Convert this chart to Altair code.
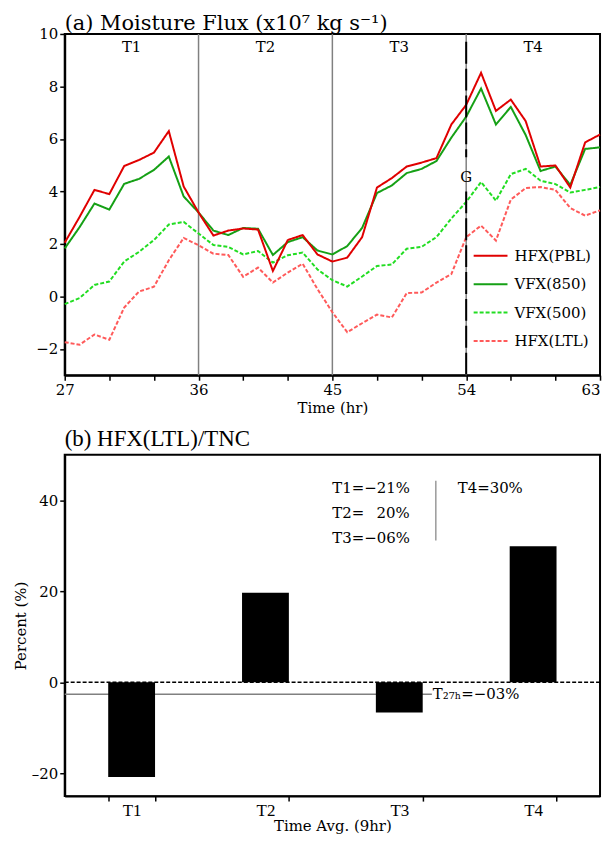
import altair as alt
import pandas as pd

# ---------------- data: panel (a) ----------------
hours = list(range(27, 64))
hfx_pbl = [2.05, 3.03, 4.06, 3.90, 4.97, 5.20, 5.48, 6.30, 4.19, 3.20,
           2.32, 2.51, 2.59, 2.55, 0.97, 2.15, 2.34, 1.60, 1.33,
           1.48, 2.26, 4.15, 4.51, 4.95, 5.10, 5.27, 6.55, 7.30,
           8.52, 7.07, 7.50, 6.68, 4.95, 4.99, 4.15, 5.87, 6.17]
vfx_850 = [1.83, 2.64, 3.54, 3.31, 4.29, 4.48, 4.82, 5.33, 3.81, 3.20,
           2.51, 2.34, 2.61, 2.58, 1.58, 2.07, 2.26, 1.75, 1.60,
           1.92, 2.61, 3.94, 4.23, 4.70, 4.86, 5.16, 6.05, 6.85,
           7.92, 6.55, 7.22, 6.15, 4.78, 4.95, 4.25, 5.62, 5.68]
vfx_500 = [-0.29, -0.06, 0.44, 0.57, 1.33, 1.70, 2.15, 2.74, 2.84, 2.40,
           1.96, 1.89, 1.60, 1.73, 1.29, 1.57, 1.67, 1.03, 0.62,
           0.38, 0.76, 1.16, 1.22, 1.82, 1.89, 2.26, 2.97, 3.60,
           4.36, 3.65, 4.66, 4.86, 4.41, 4.28, 3.96, 4.06, 4.17]
hfx_ltl = [-1.74, -1.84, -1.45, -1.65, -0.42, 0.19, 0.37, 1.38, 2.23, 1.95,
           1.63, 1.58, 0.75, 1.10, 0.53, 0.91, 1.25, 0.28, -0.60,
           -1.36, -1.02, -0.69, -0.80, 0.13, 0.15, 0.53, 0.85, 2.26,
           2.70, 2.13, 3.69, 4.13, 4.17, 4.06, 3.37, 3.08, 3.28]

series_names = ["HFX(PBL)", "VFX(850)", "VFX(500)", "HFX(LTL)"]
series_colors = ["#e00000", "#15a015", "#22dd22", "#ff5a5a"]
series_dash = [[1, 0], [1, 0], [4, 2], [4, 2]]

period_names = ["T1", "T2", "T3", "T4"]
period_bounds = [27, 36, 45, 54, 63]
genesis_hour = 54

# ---------------- data: panel (b) ----------------
pct_values = [-20.8, 19.7, -6.6, 29.9]
pct_labels = ["T1=\u221221%", "T2=\u2002\u00a020%", "T3=\u221206%"]
pct_label_t4 = "T4=30%"
total_pct = -2.6
total_label = "T\u2082\u2087\u2095=\u221203%"

SERIF = "DejaVu Serif"
TIMES = "Liberation Serif"
W = 538
HA = 343
HB = 343

# ---------------- panel (a) ----------------
rows = []
for name, vals in zip(series_names, [hfx_pbl, vfx_850, vfx_500, hfx_ltl]):
    for h, v in zip(hours, vals):
        rows.append({"hour": h, "value": v, "series": name})
flux = pd.DataFrame(rows)

xa = alt.X("hour:Q", scale=alt.Scale(domain=[27, 63], nice=False),
           axis=alt.Axis(values=list(range(27, 64, 3)),
                         labelExpr="(datum.value - 27) % 9 == 0 ? datum.label : ''",
                         labelAlign={"condition": {"test": "datum.value == 63", "value": "right"},
                                     "value": "center"},
                         labelFlush=False, labelOverlap=False,
                         title="Time (hr)"))
ya = alt.Y("value:Q", scale=alt.Scale(domain=[-3, 10], nice=False),
           axis=alt.Axis(values=[-2, 0, 2, 4, 6, 8, 10], title=None))

color_enc = alt.Color("series:N",
                      scale=alt.Scale(domain=series_names, range=series_colors),
                      legend=None)
dash_enc = alt.StrokeDash("series:N",
                          scale=alt.Scale(domain=series_names, range=series_dash),
                          legend=None)

inner = pd.DataFrame({"hour": period_bounds[1:-1]})
sep_rules = alt.Chart(inner).mark_rule(color="#808080", strokeWidth=1.5).encode(x=xa)

line_layers = []
for name in reversed(series_names):
    line_layers.append(
        alt.Chart(flux).transform_filter(alt.datum.series == name)
        .mark_line(strokeWidth=2).encode(x=xa, y=ya, color=color_enc, strokeDash=dash_enc)
    )

periods = pd.DataFrame({
    "period": period_names,
    "mid": [(a + b) / 2 for a, b in zip(period_bounds[:-1], period_bounds[1:])],
})
period_text = alt.Chart(periods).mark_text(font=SERIF, fontSize=15, color="black").encode(
    x=alt.X("mid:Q", scale=alt.Scale(domain=[27, 63], nice=False)),
    y=alt.datum(9.5), text="period:N")

gdf = pd.DataFrame({"hour": [genesis_hour]})
g_upper = alt.Chart(gdf).mark_rule(color="black", strokeWidth=2, strokeDash=[22, 5]).encode(
    x=xa, y=alt.datum(9.7), y2=alt.datum(5.3))
g_lower = alt.Chart(gdf).mark_rule(color="black", strokeWidth=2, strokeDash=[22, 5]).encode(
    x=xa, y=alt.datum(4.0), y2=alt.datum(-3))
g_text = alt.Chart(gdf).mark_text(font=SERIF, fontSize=15, color="black").encode(
    x=xa, y=alt.datum(4.55), text=alt.value("G"))

# legend drawn inside panel (a), lower right
legend_layers = []
for i, name in enumerate(series_names):
    ldf = pd.DataFrame({"series": [name]})
    ypix = 223 + i * 28.5
    legend_layers.append(
        alt.Chart(ldf).mark_rule(strokeWidth=2).encode(
            x=alt.value(411), x2=alt.value(445), y=alt.value(ypix),
            color=color_enc, strokeDash=dash_enc))
    legend_layers.append(
        alt.Chart(ldf).mark_text(font=SERIF, fontSize=15, align="left",
                                 baseline="middle", color="black").encode(
            x=alt.value(452), y=alt.value(ypix), text="series:N"))

panel_a = alt.layer(sep_rules, *line_layers, period_text, g_upper, g_lower, g_text,
                    *legend_layers).properties(
    width=W, height=HA,
    title=alt.Title("(a) Moisture Flux (x10\u2077 kg s\u207b\u00b9)", anchor="start",
                    frame="group", font=SERIF, fontSize=21, fontWeight="normal",
                    offset=-7, color="black"))

# ---------------- panel (b) ----------------
pct_df = pd.DataFrame({"period": period_names, "pct": pct_values})
xb = alt.X("period:N", sort=period_names,
           scale=alt.Scale(paddingInner=0.65, paddingOuter=0.325),
           axis=alt.Axis(tickBand="extent", labelAngle=0, labelFont=TIMES,
                         labelFontSize=17, labelPadding=1, titlePadding=1,
                         title="Time Avg. (9hr)"))
yb = alt.Y("pct:Q", scale=alt.Scale(domain=[-25, 50], nice=False),
           axis=alt.Axis(values=[-20, 0, 20, 40], title="Percent (%)",
                         labelExpr="replace(datum.label, '\u2212', '\u2013')"))

tot_df = pd.DataFrame({"pct": [total_pct], "label": [total_label]})
tot_rule = alt.Chart(tot_df).mark_rule(color="#808080", strokeWidth=1.5).encode(
    y=yb, x=alt.value(0), x2=alt.value(369))
bars = alt.Chart(pct_df).mark_bar(color="black").encode(x=xb, y=yb)
zero_rule = alt.Chart(pd.DataFrame({"pct": [0]})).mark_rule(
    color="black", strokeWidth=1.5, strokeDash=[4, 2]).encode(y=yb)
tot_text = alt.Chart(tot_df).mark_text(font=SERIF, fontSize=15, align="left",
                                       baseline="middle", color="black").encode(
    y=yb, x=alt.value(370), text="label:N")

ann_layers = []
for i, lab in enumerate(pct_labels):
    ann_layers.append(
        alt.Chart(pd.DataFrame({"t": [lab]})).mark_text(
            font=SERIF, fontSize=15, align="left", baseline="middle", color="black",
            x=269, y=33 + i * 25.5).encode(text="t:N"))
ann_layers.append(
    alt.Chart(pd.DataFrame({"t": [pct_label_t4]})).mark_text(
        font=SERIF, fontSize=15, align="left", baseline="middle", color="black",
        x=395, y=33).encode(text="t:N"))
ann_sep = alt.Chart(pd.DataFrame({"a": [0]})).mark_rule(color="#808080", strokeWidth=1.2).encode(
    x=alt.value(373), y=alt.value(26), y2=alt.value(86))

panel_b = alt.layer(tot_rule, bars, zero_rule, tot_text, ann_sep, *ann_layers).properties(
    width=W, height=HB,
    title=alt.Title("(b) HFX(LTL)/TNC", anchor="start", frame="group", font=TIMES,
                    fontSize=23, fontWeight="normal", offset=4, color="black"))

chart = alt.vconcat(panel_a, panel_b, spacing=11).properties(
    padding={"left": 4, "top": 2, "right": 0, "bottom": 0}
).configure_view(stroke="black", strokeWidth=2).configure_axis(
    grid=False, domainColor="black", domainWidth=2, tickColor="black", tickWidth=1.5,
    tickSize=5, labelFont=SERIF, labelFontSize=15, labelColor="black", labelPadding=2,
    titleFont=SERIF, titleFontSize=15, titleFontWeight="normal", titleColor="black",
    titlePadding=3
)

chart.save("out.html", embed_options={"renderer": "svg", "actions": False})
